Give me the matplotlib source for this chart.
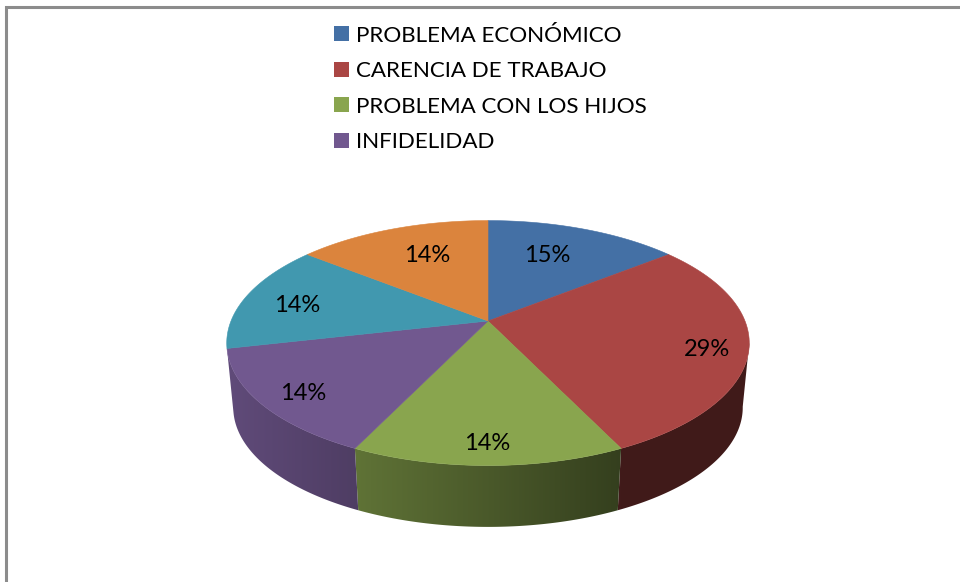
import numpy as np
import matplotlib
matplotlib.use("Agg")
import matplotlib.pyplot as plt
from matplotlib.patches import Patch, Polygon
from matplotlib.colors import to_rgb

plt.rcParams["font.family"] = ["Lato", "DejaVu Sans"]

# legend only names the first four slices, same as the source chart
legend_names = ["PROBLEMA ECONÓMICO", "CARENCIA DE TRABAJO", "PROBLEMA CON LOS HIJOS", "INFIDELIDAD"]
shares = [1, 2, 1, 1, 1, 1]
pct_labels = ["15%", "29%", "14%", "14%", "14%", "14%"]
top_colors = ["#4470A5", "#AA4644", "#89A54E", "#71588F", "#4198AF", "#DB843D"]
label_xy = [(547, 255), (707, 349), (487, 444), (303, 394), (297, 305), (427, 255)]


def project(theta, apex_y, scale):
    # flat disc seen in perspective, theta clockwise from 12 o'clock
    u, v = np.sin(theta), np.cos(theta)
    d = 1 + 0.18 * v
    return 488 + scale * 257 * u / d, apex_y - scale * 118.5 * v / d


fig = plt.figure(figsize=(9.6, 5.82), dpi=100)
ax = fig.add_axes([0, 0, 1, 1])

# chart frame
ax.plot([5.5, 5.5, 960], [582, 6.5, 6.5], color="#8C8C8C", lw=2.2, solid_joinstyle="miter")

edges = np.cumsum([0] + shares) / sum(shares) * 2 * np.pi

# side wall: horizontal gradient clipped to each visible slice
px = np.arange(220, 760)
shade = np.interp(px - 488, [-261, 134], [0.85, 0.38])
for i in [1, 2, 3]:
    # start at the silhouette, otherwise the two rim arcs cross and leave a notch
    th = np.linspace(max(edges[i], np.radians(100)), edges[i + 1], 120)
    x1, y1 = project(th, 321, 1.0)
    x2, y2 = project(th, 386, 0.975)
    wall = Polygon(np.c_[np.r_[x1, x2[::-1]], np.r_[y1, y2[::-1]]], closed=True,
                   transform=ax.transData, facecolor="none", edgecolor="none")
    ax.add_patch(wall)
    grad = shade[None, :, None] * np.array(to_rgb(top_colors[i]))[None, None, :]
    im = ax.imshow(grad, extent=(220, 760, 540, 300), aspect="auto", zorder=2, interpolation="bilinear")
    im.set_clip_path(wall)

# top face
for i in range(len(shares)):
    th = np.linspace(edges[i], edges[i + 1], 80)
    x, y = project(th, 321, 1.0)
    ax.fill(np.r_[488, x], np.r_[321, y], color=top_colors[i], lw=0.4, zorder=3)

for (lx, ly), s in zip(label_xy, pct_labels):
    ax.text(lx, ly, s, ha="center", va="center", fontsize=17, color="black", zorder=4)

handles = [Patch(facecolor=c, edgecolor="none") for c in top_colors[:4]]
ax.legend(handles, legend_names, loc="upper left", bbox_to_anchor=(327.3, 19), bbox_transform=ax.transData,
          frameon=False, fontsize=16.1, handlelength=0.67, handleheight=0.67, handletextpad=0.31,
          labelspacing=0.69, borderpad=0.3, borderaxespad=0)

ax.set_xlim(0, 960)
ax.set_ylim(582, 0)
ax.axis("off")

fig.savefig("out.png", dpi=100, facecolor="white")
